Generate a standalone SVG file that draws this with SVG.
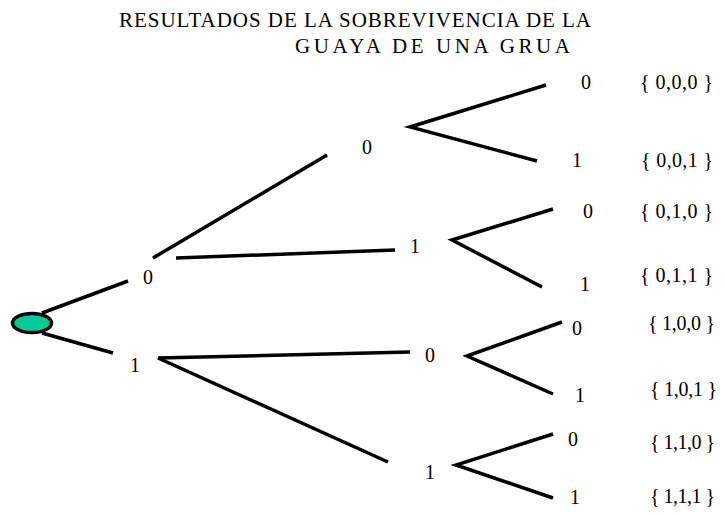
<svg xmlns="http://www.w3.org/2000/svg" width="725" height="514" viewBox="0 0 725 514">
<style>
text { font-family: "Liberation Serif", "Times New Roman", serif; fill: #000; }
.t { font-size: 21px; }
.d { font-size: 20px; text-anchor: middle; }
.s { font-size: 20px; }
.e { stroke: #000; stroke-width: 3.5; fill: none; stroke-linecap: butt; }
</style>
<rect width="725" height="514" fill="#fff"/>
<g id="title">
<text class="t" x="119" y="27" textLength="472" lengthAdjust="spacing">RESULTADOS DE LA SOBREVIVENCIA DE LA</text>
<text class="t" x="295" y="53" textLength="275" lengthAdjust="spacing">GUAYA DE UNA GRUA</text>
</g>
<g id="connectors">
<line class="e" x1="42" y1="313" x2="128" y2="281"/>
<line class="e" x1="42" y1="333" x2="113" y2="353"/>
<line class="e" x1="153" y1="258" x2="327" y2="155"/>
<line class="e" x1="176" y1="258" x2="395" y2="250"/>
<line class="e" x1="158" y1="358" x2="410" y2="352"/>
<line class="e" x1="158" y1="358" x2="388" y2="462"/>
<polyline class="e" points="546,85 410,127 537,161"/>
<polyline class="e" points="553,209 452,240 542,287"/>
<polyline class="e" points="562,322 467,356 553,394"/>
<polyline class="e" points="553,434 456,465 553,498"/>
</g>
<g id="root"><ellipse cx="32" cy="323" rx="19.5" ry="9.5" fill="#00CC99" stroke="#000" stroke-width="3.5"/></g>
<g id="n0"><text class="d" x="148" y="284">0</text></g>
<g id="n1"><text class="d" x="135" y="372">1</text></g>
<g id="n00"><text class="d" x="367" y="154">0</text></g>
<g id="n01"><text class="d" x="415" y="253">1</text></g>
<g id="n10"><text class="d" x="430" y="362">0</text></g>
<g id="n11"><text class="d" x="430" y="479">1</text></g>
<g id="n000"><text class="d" x="586" y="89">0</text><text class="s" x="640" y="89" textLength="73" lengthAdjust="spacing">{ 0,0,0 }</text></g>
<g id="n001"><text class="d" x="577" y="167">1</text><text class="s" x="641" y="167" textLength="72" lengthAdjust="spacing">{ 0,0,1 }</text></g>
<g id="n010"><text class="d" x="588" y="218">0</text><text class="s" x="640" y="218" textLength="73" lengthAdjust="spacing">{ 0,1,0 }</text></g>
<g id="n011"><text class="d" x="585" y="291">1</text><text class="s" x="640" y="282" textLength="73" lengthAdjust="spacing">{ 0,1,1 }</text></g>
<g id="n100"><text class="d" x="577" y="335">0</text><text class="s" x="648" y="330" textLength="67" lengthAdjust="spacing">{ 1,0,0 }</text></g>
<g id="n101"><text class="d" x="580" y="402">1</text><text class="s" x="650" y="396" textLength="67" lengthAdjust="spacing">{ 1,0,1 }</text></g>
<g id="n110"><text class="d" x="573" y="446">0</text><text class="s" x="650" y="449" textLength="65" lengthAdjust="spacing">{ 1,1,0 }</text></g>
<g id="n111"><text class="d" x="575" y="504">1</text><text class="s" x="650" y="503" textLength="65" lengthAdjust="spacing">{ 1,1,1 }</text></g>
</svg>
